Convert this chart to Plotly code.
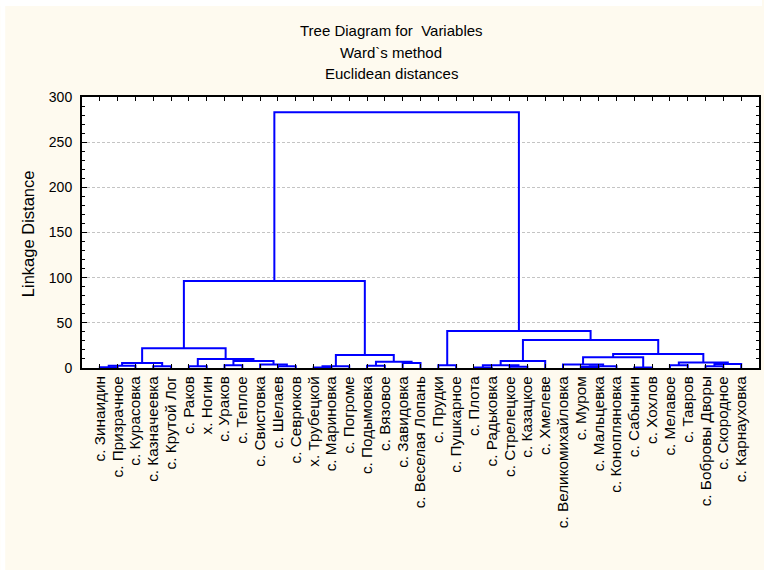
import plotly.graph_objects as go

# ---- data ----
leaf_labels = [
    "с. Зинаидин", "с. Призрачное", "с. Курасовка", "с. Казначеевка", "с. Крутой Лог",
    "с. Раков", "х. Ногин", "с. Ураков", "с. Теплое", "с. Свистовка",
    "с. Шелаев", "с. Севрюков", "х. Трубецкой", "с. Мариновка", "с. Погроме",
    "с. Подымовка", "с. Вязовое", "с. Завидовка", "с. Веселая Лопань", "с. Прудки",
    "с. Пушкарное", "с. Плота", "с. Радьковка", "с. Стрелецкое", "с. Казацкое",
    "с. Хмелеве", "с. Великомихайловка", "с. Муром", "с. Мальцевка", "с. Коноплянoвка",
    "с. Сабынин", "с. Хохлов", "с. Мелавое", "с. Тавров", "с. Бобровы Дворы",
    "с. Скородное", "с. Карнауховка",
]
# node refs: positive = leaf number (1-based), negative = merge number (-k -> k-th merge)
merge_left = [1, -1, 4, -2, 6, 8, 11, 10, -6, -5, -4, 13, -12, 16, 18, -14, -13, -11,
              20, 22, 24, -20, -22, 28, -24, 27, 31, -26, 33, 35, -30, -29, -28, -23, -19, -18]
merge_right = [2, 3, 5, -3, 7, 9, 12, -7, -8, -9, -10, 14, 15, 17, 19, -15, -16, -17,
               21, 23, 25, -21, 26, 29, 30, -25, 32, -27, 34, 36, 37, -31, -32, -33, -34, -35]
merge_height = [0.8, 2.5, 2.0, 5.5, 2.0, 3.0, 2.0, 4.0, 7.7, 10.0, 21.8, 0.5, 2.0, 2.5, 5.6, 7.0, 14.4, 96.3,
                3.0, 0.5, 1.5, 3.0, 7.7, 1.0, 2.0, 4.0, 0.5, 11.8, 3.0, 2.0, 4.5, 6.0, 15.5, 31.0, 41.0, 283.0]

y_ticks = [0, 50, 100, 150, 200, 250, 300]

# ---- build dendrogram segments ----
pos = {}
hgt = {}


def node_xy(ref):
    if ref > 0:
        return float(ref), 0.0
    return pos[-ref], hgt[-ref]


xs, ys = [], []
for k, (a, b, h) in enumerate(zip(merge_left, merge_right, merge_height), start=1):
    xa, ya = node_xy(a)
    xb, yb = node_xy(b)
    pos[k] = (xa + xb) / 2.0
    hgt[k] = h
    xs += [xa, xa, xb, xb, None]
    ys += [ya, h, h, yb, None]

FONT = "Liberation Sans, Arial, sans-serif"
W, H = 764, 570
L, R, T, B = 82, 3, 97, 202

fig = go.Figure()
fig.add_trace(go.Scatter(x=xs, y=ys, mode="lines",
                         line=dict(color="#0000FF", width=2),
                         hoverinfo="skip", showlegend=False))

fig.update_layout(
    width=W, height=H,
    margin=dict(l=L, r=R, t=T, b=B, pad=0),
    paper_bgcolor="#FEFAEF",
    plot_bgcolor="#FFFFFF",
    font=dict(family=FONT, size=14, color="black"),
    showlegend=False,
)
fig.update_xaxes(
    range=[0, len(leaf_labels) + 1],
    tickmode="array",
    tickvals=list(range(1, len(leaf_labels) + 1)),
    ticktext=leaf_labels,
    tickangle=-90,
    ticks="inside", ticklen=4, tickwidth=1, tickcolor="black",
    showline=True, linecolor="black", linewidth=2, mirror="allticks",
    showgrid=False, zeroline=False,
    tickfont=dict(family=FONT, size=15.3, color="black"),
)
fig.update_yaxes(
    range=[0, 300],
    tickmode="array",
    tickvals=y_ticks,
    ticks="inside", ticklen=5, tickwidth=1, tickcolor="black",
    minor=dict(tickmode="linear", tick0=0, dtick=10, ticks="inside", ticklen=3,
               tickcolor="black", showgrid=False),
    showline=True, linecolor="black", linewidth=2, mirror="allticks",
    showgrid=True, gridcolor="#C4C4C4", griddash="3px,2px", gridwidth=1,
    zeroline=False,
    ticklabelstandoff=5,
    tickfont=dict(family=FONT, size=14, color="black"),
)

pw = W - L - R
ph = H - T - B


def px_x(x):
    return (x - L) / pw


def px_y(y):
    return (H - B - y) / ph


titles = [("Tree Diagram for  Variables", 30), ("Ward`s method", 52), ("Euclidean distances", 73)]
for txt, yy in titles:
    fig.add_annotation(text=txt, xref="paper", yref="paper", x=px_x(392), y=px_y(yy),
                       xanchor="center", yanchor="middle", showarrow=False,
                       font=dict(family=FONT, size=15, color="black"))

fig.add_annotation(text="Linkage Distance", xref="paper", yref="paper",
                   x=px_x(28), y=px_y(234), xanchor="center", yanchor="middle",
                   textangle=-90, showarrow=False,
                   font=dict(family=FONT, size=16.5, color="black"))

# white strips at top and left edge of the picture
fig.add_shape(type="rect", xref="paper", yref="paper", x0=px_x(0), x1=px_x(W),
              y0=px_y(6), y1=px_y(0), fillcolor="white", line=dict(width=0), layer="below")
fig.add_shape(type="rect", xref="paper", yref="paper", x0=px_x(0), x1=px_x(5),
              y0=px_y(H), y1=px_y(0), fillcolor="white", line=dict(width=0), layer="below")

fig.write_html("out.html",
               config={"displayModeBar": False},
               post_script="document.body.style.margin='0';document.body.style.padding='0';")
